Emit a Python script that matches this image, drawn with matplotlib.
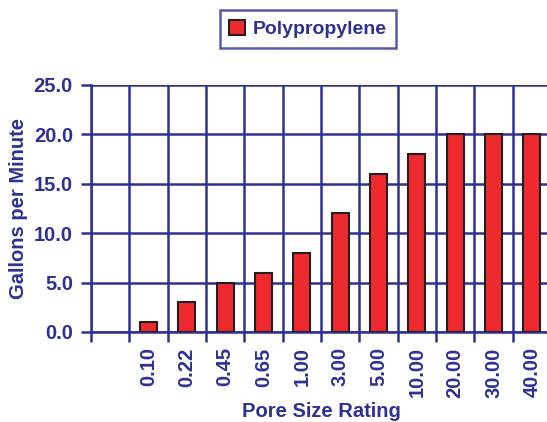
import numpy as np
import matplotlib
matplotlib.use('Agg')
import matplotlib.pyplot as plt

# data
ratings = ['', '0.10', '0.22', '0.45', '0.65', '1.00', '3.00', '5.00',
           '10.00', '20.00', '30.00', '40.00']
gpm = [np.nan, 1, 3, 5, 6, 8, 12, 16, 18, 20, 20, 20]
series = 'Polypropylene'
yticks = [0, 5, 10, 15, 20, 25]

navy = '#2E3192'
red = '#EE2A2F'
edge = '#231F20'

plt.rcParams['font.family'] = ['Liberation Sans', 'DejaVu Sans']
plt.rcParams['font.weight'] = 'bold'

fig = plt.figure(figsize=(5.47, 4.22), dpi=100)
ax = fig.add_axes([0.1664, 0.2133, 0.841, 0.5853])

x = np.arange(len(ratings))
bars = ax.bar(x, gpm, width=0.44, color=red, edgecolor=edge, linewidth=1.5,
              label=series, zorder=3)

ax.set_xlim(-0.5, len(ratings) - 0.5)
ax.set_ylim(0, 25)

# category boundaries as ticks + grid, labels at centres
ax.set_xticks(np.arange(len(ratings) + 1) - 0.5, minor=False)
ax.set_xticklabels([])
ax.set_xticks(x, minor=True)
ax.set_xticklabels(ratings, minor=True, rotation=90, fontsize=14.5,
                   fontweight='bold', color=navy, va='top')
ax.tick_params(axis='x', which='major', length=7, width=1.8, color=navy)
ax.tick_params(axis='x', which='minor', length=0, pad=11)

ax.set_yticks(yticks)
ax.set_yticklabels(['%.1f' % v for v in yticks], fontsize=14.5,
                   fontweight='bold', color=navy)
ax.tick_params(axis='y', length=7, width=1.8, color=navy, pad=6)

ax.grid(True, which='major', color=navy, linewidth=1.8, zorder=0)
ax.set_axisbelow(True)
for s in ['top', 'right']:
    ax.spines[s].set_visible(False)
for s in ['left', 'bottom']:
    ax.spines[s].set_color(navy)
    ax.spines[s].set_linewidth(1.8)

ax.set_xlabel('Pore Size Rating', fontsize=14.5, fontweight='bold',
              color=navy, labelpad=3)
ax.set_ylabel('Gallons per Minute', fontsize=14.5, fontweight='bold',
              color=navy, labelpad=4)

leg = fig.legend(handles=[bars], labels=[series], loc='upper center',
                 bbox_to_anchor=(0.563, 0.976), borderaxespad=0,
                 fancybox=False, handlelength=0.8, handleheight=0.8,
                 handletextpad=0.4, borderpad=0.5,
                 prop={'size': 14, 'weight': 'bold'})
leg.get_frame().set_edgecolor(navy)
leg.get_frame().set_linewidth(1.8)
for t in leg.get_texts():
    t.set_color(navy)

fig.savefig('out.png', dpi=100)
